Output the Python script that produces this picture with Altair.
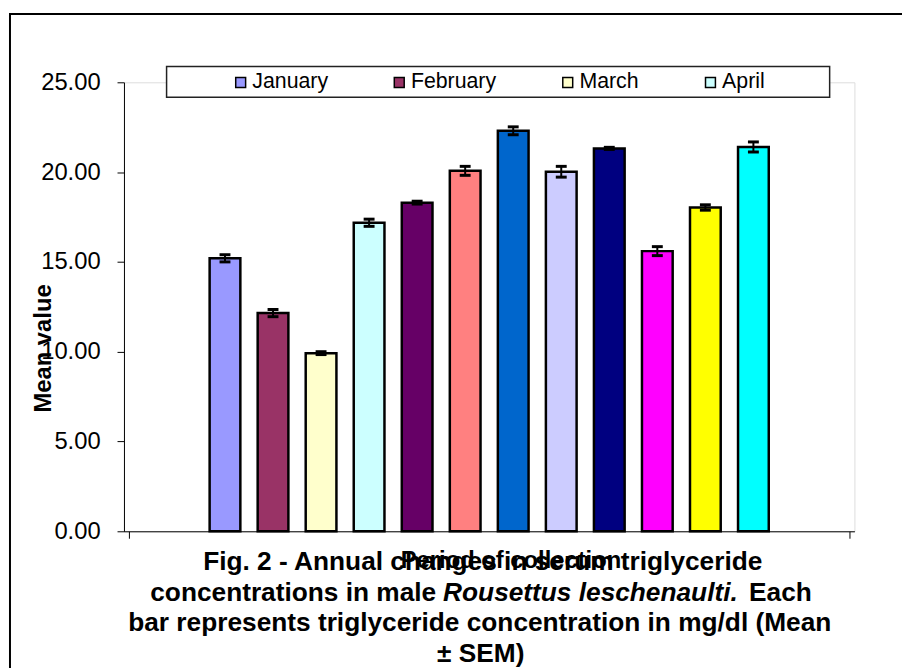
import altair as alt
import pandas as pd

months = ["January", "February", "March", "April", "May", "June", "July",
          "August", "September", "October", "November", "December"]
means = [15.20, 12.15, 9.92, 17.18, 18.30, 20.07, 22.30, 20.02, 21.32, 15.60, 18.03, 21.40]
sems = [0.20, 0.20, 0.08, 0.20, 0.08, 0.25, 0.22, 0.30, 0.06, 0.25, 0.15, 0.28]
colors = ["#9999FF", "#993366", "#FFFFCC", "#CCFFFF", "#660066", "#FF8080",
          "#0066CC", "#CCCCFF", "#000080", "#FF00FF", "#FFFF00", "#00FFFF"]
legend_months = months[:4]
y_ticks = [0, 5, 10, 15, 20, 25]
x_title = "Period of collection"
y_title = "Mean value"
caption_line1 = "Fig. 2 - Annual changes in serum triglyceride"
caption_line2a = "concentrations in male"
caption_line2b = "Rousettus leschenaulti."
caption_line2c = "Each"
caption_line3 = "bar represents triglyceride concentration in mg/dl (Mean"
caption_line4 = "\u00b1 SEM)"

FONT = "Liberation Sans"

df = pd.DataFrame({"month": months, "mean": means, "sem": sems})
df["pos"] = list(range(1, len(months) + 1))
df["lo"] = df["mean"] - df["sem"]
df["hi"] = df["mean"] + df["sem"]

base = alt.Chart(df)

x_enc = alt.X(
    "pos:Q",
    scale=alt.Scale(domain=[-1, 14], nice=False, zero=False),
    axis=alt.Axis(values=[-1, 14], labels=False, tickSize=7, tickColor="black",
                  tickWidth=1, domainColor="black", domainWidth=1, grid=False,
                  title=x_title, titleFontSize=24, titleFontWeight="bold",
                  titleColor="black", titleFont=FONT, titleX=390, titleY=37,
                  titleAlign="center", titleBaseline="alphabetic"),
)
y_enc = alt.Y(
    "mean:Q",
    scale=alt.Scale(domain=[0, 25], nice=False),
    axis=alt.Axis(values=y_ticks, format=".2f", labelFontSize=24, labelFont=FONT,
                  labelColor="black", tickSize=7, tickColor="black", tickWidth=1,
                  domainColor="black", domainWidth=1, labelPadding=17, grid=False,
                  title=y_title, titleFontSize=24, titleFontWeight="bold",
                  titleColor="black", titleFont=FONT, titleAngle=270,
                  titleX=-74, titleY=268, titleAlign="center",
                  titleBaseline="alphabetic"),
)
color_enc = alt.Color(
    "month:N",
    scale=alt.Scale(domain=months, range=colors),
    legend=alt.Legend(values=legend_months, orient="none", legendX=107, legendY=-11,
                      direction="horizontal", title=None, symbolType="square",
                      symbolSize=100, symbolStrokeColor="black", symbolStrokeWidth=1.5,
                      symbolOpacity=1, labelFontSize=21.5, labelFont=FONT,
                      labelColor="black", labelOffset=1, columnPadding=61, padding=0),
)

bars = base.mark_bar(width=31, stroke="black", strokeWidth=2.5, opacity=1).encode(
    x=x_enc, y=y_enc, color=color_enc
)
err = base.mark_rule(color="black", strokeWidth=2).encode(
    x=alt.X("pos:Q", title=x_title), y=alt.Y("lo:Q", title=y_title), y2="hi:Q"
)
cap_hi = base.mark_tick(orient="horizontal", size=11, thickness=3, color="black",
                        opacity=1).encode(
    x=alt.X("pos:Q", title=x_title), y=alt.Y("hi:Q", title=y_title)
)
cap_lo = base.mark_tick(orient="horizontal", size=11, thickness=3, color="black",
                        opacity=1).encode(
    x=alt.X("pos:Q", title=x_title), y=alt.Y("lo:Q", title=y_title)
)

one = alt.Chart(pd.DataFrame({"k": [0]}))

border = one.mark_rect(fillOpacity=0, stroke="black", strokeWidth=2).encode(
    x=alt.value(-115), x2=alt.value(900), y=alt.value(-69), y2=alt.value(700)
)
legend_box = one.mark_rect(fill="white", stroke="#222222", strokeWidth=1.5).encode(
    x=alt.value(43), x2=alt.value(712), y=alt.value(-16), y2=alt.value(15)
)


def cap_text(txt, xv, yv, align="center", italic=False):
    return one.mark_text(
        align=align, baseline="alphabetic", fontSize=26.5, fontWeight="bold",
        fontStyle="italic" if italic else "normal", font=FONT, color="black"
    ).encode(x=alt.value(xv), y=alt.value(yv), text=alt.value(txt))


captions = [
    cap_text(caption_line1, 362, 492),
    cap_text(caption_line2a, 315, 523, align="right"),
    cap_text(caption_line2b, 322, 523, align="left", italic=True),
    cap_text(caption_line2c, 694, 523, align="right"),
    cap_text(caption_line3, 359, 554),
    cap_text(caption_line4, 360, 585),
]

chart = alt.layer(border, legend_box, bars, err, cap_hi, cap_lo, *captions).properties(
    width=737, height=453,
    autosize=alt.AutoSizeParams(type="none"),
    padding={"left": 117, "top": 72, "right": 48, "bottom": 140},
).configure_view(stroke=None).configure(font=FONT)

chart.save("out.html", embed_options={"renderer": "svg", "actions": False})
